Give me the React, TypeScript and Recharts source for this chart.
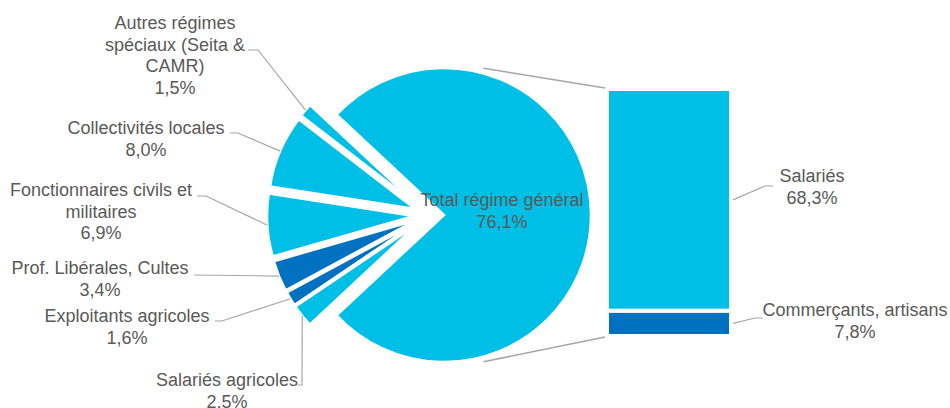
import { PieChart, Pie, Cell, BarChart, Bar, XAxis, YAxis } from 'recharts'

// pie slices, counter-clockwise from the big slice
const sliceNames = [
  'Total régime général',
  'Autres régimes spéciaux (Seita & CAMR)',
  'Collectivités locales',
  'Fonctionnaires civils et militaires',
  'Prof. Libérales, Cultes',
  'Exploitants agricoles',
  'Salariés agricoles',
]
const sliceValues = [76.1, 1.5, 8.0, 6.9, 3.4, 1.6, 2.5]
const sliceColors = ['#00BFE7', '#00BFE7', '#00BFE7', '#00BFE7', '#0070C0', '#0070C0', '#00BFE7']

// breakdown of the big slice, bottom to top
const barNames = ['Commerçants, artisans', 'Salariés']
const barValues = [7.8, 68.3]
const barColors = ['#0070C0', '#00BFE7']

// wrapped label text
const sliceLabelLines = [
  ['Total régime général'],
  ['Autres régimes', 'spéciaux (Seita &', 'CAMR)'],
  ['Collectivités locales'],
  ['Fonctionnaires civils et', 'militaires'],
  ['Prof. Libérales, Cultes'],
  ['Exploitants agricoles'],
  ['Salariés agricoles'],
]

const W = 950
const H = 408
const PIE_X = 429
const PIE_Y = 215
const RADIUS = 147
const EXPLODE = 15
const TEXT = '#595959'
const LEADER = '#A6A6A6'
const FONT = '"Liberation Sans", Arial, sans-serif'
const LINE_H = 21.5
const RAD = Math.PI / 180

// label layout: centre x, first line y, leader points from the text end back to the elbow
const sliceLabelPos: { x: number; y: number; leader: number[][] }[] = [
  { x: 502, y: 200, leader: [] },
  { x: 175, y: 23, leader: [[248, 50], [258, 50]] },
  { x: 146, y: 128, leader: [[230, 133], [238, 133]] },
  { x: 101, y: 190, leader: [[197, 196], [206, 196]] },
  { x: 100, y: 268, leader: [[194, 275]] },
  { x: 127, y: 316, leader: [[215, 321], [222, 321]] },
  { x: 227, y: 380, leader: [[298, 385], [302, 385]] },
]
const barLabelPos: { x: number; y: number; leader: number[][] }[] = [
  { x: 855, y: 310, leader: [[763, 318], [755, 318]] },
  { x: 812, y: 176, leader: [[773, 186], [765, 186]] },
]

const fmtPct = (v: number) => `${v.toFixed(1).replace('.', ',')}%`

const total = sliceValues.reduce((a, b) => a + b, 0)
const startAngle = -((sliceValues[0] / total) * 360) / 2
const midAngles: number[] = []
{
  let acc = startAngle
  sliceValues.forEach((v) => {
    const span = (v / total) * 360
    midAngles.push(acc + span / 2)
    acc += span
  })
}

const pieData = sliceNames.map((name, i) => ({ name, value: sliceValues[i] }))
const barRow: Record<string, number | string> = { name: sliceNames[0] }
barNames.forEach((n, i) => (barRow[n] = barValues[i]))

function TextBlock({ x, y, lines }: { x: number; y: number; lines: string[] }) {
  return (
    <text x={x} y={y} textAnchor="middle" fill={TEXT} fontSize={18} fontFamily={FONT}>
      {lines.map((l, k) => (
        <tspan key={k} x={x} y={y + k * LINE_H} dominantBaseline="central">
          {l}
        </tspan>
      ))}
    </text>
  )
}

const makeSliceLabel = (slot: number) => (props: any) => {
  if (props.index !== slot) return null
  const { cx, cy, midAngle, outerRadius } = props
  const pos = sliceLabelPos[slot]
  const lines = [...sliceLabelLines[slot], fmtPct(sliceValues[slot])]
  const sx = cx + outerRadius * Math.cos(-midAngle * RAD)
  const sy = cy + outerRadius * Math.sin(-midAngle * RAD)
  const pts = pos.leader.length ? [...pos.leader, [sx, sy]] : []
  return (
    <g>
      {pts.length > 0 && (
        <polyline points={pts.map((p) => p.join(',')).join(' ')} fill="none" stroke={LEADER} strokeWidth={1.2} />
      )}
      <TextBlock x={pos.x} y={pos.y} lines={lines} />
    </g>
  )
}

// connector end points on the big slice
const mainCx = PIE_X + EXPLODE * Math.cos(-midAngles[0] * RAD)
const mainCy = PIE_Y + EXPLODE * Math.sin(-midAngles[0] * RAD)
const pieTop = [mainCx + (RADIUS + 5) * Math.cos(-75 * RAD), mainCy + (RADIUS + 5) * Math.sin(-75 * RAD)]
const pieBottom = [mainCx + (RADIUS + 5) * Math.cos(75 * RAD), mainCy + (RADIUS + 5) * Math.sin(75 * RAD)]

const makeBarShape = (slot: number) => (props: any) => {
  const { x, y, width, height } = props
  const pos = barLabelPos[slot]
  const sx = x + width + 2
  const sy = y + height / 2
  const pts = [...pos.leader, [sx, sy]]
  const conn = slot === 1 ? [pieTop, [x - 2, y - 1]] : [pieBottom, [x - 2, y + height + 1]]
  return (
    <g>
      <rect x={x} y={y} width={width} height={height} fill={barColors[slot]} stroke="#fff" strokeWidth={4} />
      <polyline points={pts.map((p) => p.join(',')).join(' ')} fill="none" stroke={LEADER} strokeWidth={1.2} />
      <line x1={conn[0][0]} y1={conn[0][1]} x2={conn[1][0]} y2={conn[1][1]} stroke={LEADER} strokeWidth={1.5} />
      <TextBlock x={pos.x} y={pos.y} lines={[barNames[slot], fmtPct(barValues[slot])]} />
    </g>
  )
}

export default function App() {
  return (
    <div style={{ position: 'absolute', left: 0, top: 0, width: W, height: H, background: '#fff' }}>
      <div style={{ position: 'absolute', left: 0, top: 0 }}>
        <PieChart width={W} height={H} margin={{ top: 0, right: 0, bottom: 0, left: 0 }}>
          {sliceValues.map((_, slot) => (
            <Pie
              key={slot}
              data={pieData}
              dataKey="value"
              nameKey="name"
              cx={PIE_X + EXPLODE * Math.cos(-midAngles[slot] * RAD)}
              cy={PIE_Y + EXPLODE * Math.sin(-midAngles[slot] * RAD)}
              outerRadius={RADIUS}
              innerRadius={0}
              startAngle={startAngle}
              endAngle={startAngle + 360}
              label={makeSliceLabel(slot)}
              labelLine={false}
              isAnimationActive={false}
            >
              {pieData.map((_, i) =>
                i === slot ? (
                  <Cell key={i} fill={sliceColors[i]} stroke="#fff" strokeWidth={2.5} />
                ) : (
                  <Cell key={i} fill="none" stroke="none" />
                )
              )}
            </Pie>
          ))}
        </PieChart>
      </div>
      <div style={{ position: 'absolute', left: 0, top: 0 }}>
        <BarChart
          width={W}
          height={H}
          data={[barRow]}
          margin={{ top: 89, right: W - 731, bottom: H - 336, left: 607 }}
          barCategoryGap={0}
        >
          <XAxis dataKey="name" hide />
          <YAxis hide domain={[0, 'dataMax']} />
          {barNames.map((n, slot) => (
            <Bar key={n} dataKey={n} stackId="a" fill={barColors[slot]} shape={makeBarShape(slot)} isAnimationActive={false} />
          ))}
        </BarChart>
      </div>
    </div>
  )
}
